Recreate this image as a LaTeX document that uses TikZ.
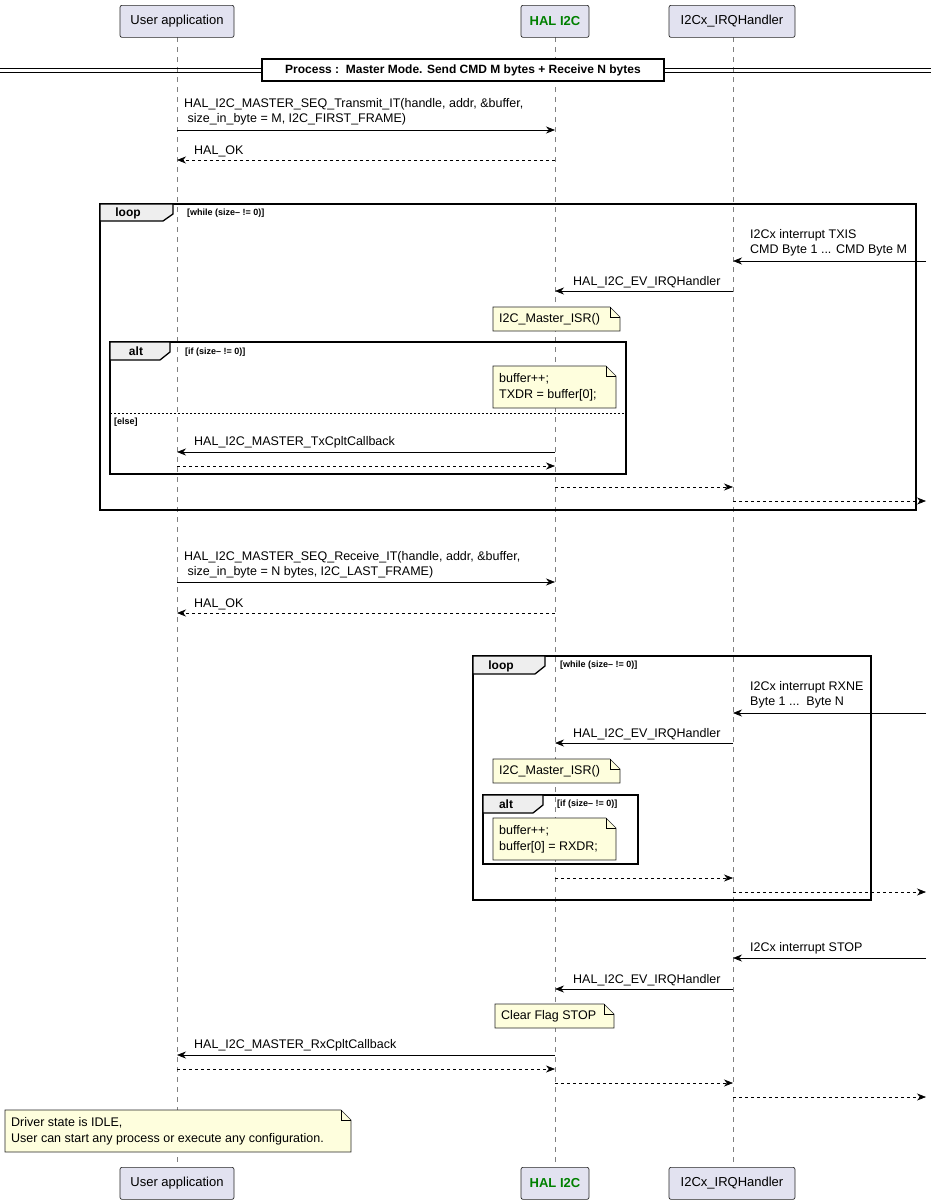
\documentclass[tikz,border=0pt]{standalone}
\usepackage{fontspec}
\setmainfont{Liberation Sans}
\usetikzlibrary{arrows.meta}
\begin{document}
\begin{tikzpicture}[x=1pt,y=-1pt,
  part/.style={draw=black!85,fill=blue!8!gray!10!white,fill={rgb,255:red,226;green,226;blue,240},rounded corners=2pt,line width=0.7pt,font=\fontsize{13}{15}\selectfont,inner sep=0pt},
  lbl/.style={anchor=west,font=\fontsize{12.5}{15}\selectfont,inner sep=0pt,align=left},
  cond/.style={anchor=west,font=\bfseries\fontsize{9}{11}\selectfont,inner sep=0pt},
  msg/.style={-{Stealth[length=9pt,width=7pt]},line width=0.6pt},
  ret/.style={msg,dashed},
  frame/.style={draw,line width=1.3pt},
  notefill/.style={draw=black!85,fill={rgb,255:red,254;green,254;blue,221},line width=0.6pt},
  life/.style={draw=gray,dash pattern=on 5pt off 5pt,line width=0.6pt}]
\useasboundingbox (0,0) rectangle (931,1203);
\def\note#1#2#3#4#5#6{%
  \filldraw[notefill] (#2,#3) -- (#4-10,#3) -- (#4,#3+10) -- (#4,#5) -- (#2,#5) -- cycle;
  \draw[line width=0.6pt] (#4-10,#3) -- (#4-10,#3+10) -- (#4,#3+10);
  \node[lbl,font=\fontsize{12.5}{16}\selectfont] (#1) at (#2+6,{(#3+#5)/2}) {#6};}
% lifelines
\draw[life] (177,37) -- (177,1167);
\draw[life] (555,37) -- (555,1167);
\draw[life] (733,37) -- (733,1167);
% participants
\foreach \n/\y in {t/5,b/1167}{
  \node[part,minimum width=114pt,minimum height=32pt,anchor=north] (ua\n) at (177,\y) {User application};
  \node[part,minimum width=68pt,minimum height=32pt,anchor=north,text={rgb,255:red,0;green,128;blue,0},font=\bfseries\fontsize{13}{15}\selectfont] (hal\n) at (555,\y) {HAL I2C};
  \node[part,minimum width=126pt,minimum height=32pt,anchor=north] (irq\n) at (732,\y) {I2Cx\_IRQHandler};
}
\coordinate (U) at (177,0); \coordinate (H) at (555,0); \coordinate (I) at (733,0); \coordinate (E) at (926,0);
% divider
\draw[line width=0.7pt] (0,68) -- (931,68) (0,72) -- (931,72);
\node[draw,fill=white,line width=1.3pt,minimum width=402pt,minimum height=22pt,font=\bfseries\fontsize{12}{14}\selectfont,inner sep=0pt] (div) at (463,70) {Process :\ \ Master Mode. Send CMD M bytes + Receive N bytes};
% messages 1
\node[lbl] (m1) at (184,112) {HAL\_I2C\_MASTER\_SEQ\_Transmit\_IT(handle, addr, \&buffer,\\\ size\_in\_byte = M, I2C\_FIRST\_FRAME)};
\draw[msg] (U|-0,130) -- (H|-0,130);
\node[lbl] (m2) at (194,151) {HAL\_OK};
\draw[ret] (H|-0,160) -- (U|-0,160);
% loop 1
\draw[frame] (100,204) rectangle (916,510);
\draw[frame,fill={rgb,255:red,238;green,238;blue,238}] (100,204) -- (173,204) -- (173,214) -- (163,221) -- (100,221) -- cycle;
\node[font=\bfseries\fontsize{12}{14}\selectfont] (l1) at (128,213) {loop};
\node[cond] (c1) at (187,213) {[while (size-- != 0)]};
\node[lbl] (m3) at (750,243) {I2Cx interrupt TXIS\\CMD Byte 1 ... CMD Byte M};
\draw[msg] (E|-0,261) -- (I|-0,261);
\node[lbl] (m4) at (573,282) {HAL\_I2C\_EV\_IRQHandler};
\draw[msg] (I|-0,291) -- (H|-0,291);
\note{n1}{493}{307}{620}{331}{I2C\_Master\_ISR()}
\draw[frame] (110,342) rectangle (626,474);
\draw[frame,fill={rgb,255:red,238;green,238;blue,238}] (110,342) -- (170,342) -- (170,352) -- (160,360) -- (110,360) -- cycle;
\node[font=\bfseries\fontsize{12}{14}\selectfont] (a1) at (136,351) {alt};
\node[cond] (c2) at (185,352) {[if (size-- != 0)]};
\note{n2}{493}{366}{616}{408}{buffer++;\\TXDR = buffer[0];}
\draw[dash pattern=on 2pt off 2pt,line width=0.6pt] (110,413) -- (626,413);
\node[cond] (el) at (114,422) {[else]};
\node[lbl] (m5) at (194,442) {HAL\_I2C\_MASTER\_TxCpltCallback};
\draw[msg] (H|-0,452) -- (U|-0,452);
\draw[ret] (U|-0,466) -- (H|-0,466);
\draw[ret] (H|-0,487) -- (I|-0,487);
\draw[ret] (I|-0,501) -- (E|-0,501);
% messages 2
\node[lbl] (m6) at (184,565) {HAL\_I2C\_MASTER\_SEQ\_Receive\_IT(handle, addr, \&buffer,\\\ size\_in\_byte = N bytes, I2C\_LAST\_FRAME)};
\draw[msg] (U|-0,582) -- (H|-0,582);
\node[lbl] (m7) at (194,604) {HAL\_OK};
\draw[ret] (H|-0,613) -- (U|-0,613);
% loop 2
\draw[frame] (473,656) rectangle (871,900);
\draw[frame,fill={rgb,255:red,238;green,238;blue,238}] (473,656) -- (545,656) -- (545,666) -- (535,674) -- (473,674) -- cycle;
\node[font=\bfseries\fontsize{12}{14}\selectfont] (l2) at (501,666) {loop};
\node[cond] (c3) at (560,665) {[while (size-- != 0)]};
\node[lbl] (m8) at (750,695) {I2Cx interrupt RXNE\\Byte 1 ...\ \ Byte N};
\draw[msg] (E|-0,713) -- (I|-0,713);
\node[lbl] (m9) at (573,734) {HAL\_I2C\_EV\_IRQHandler};
\draw[msg] (I|-0,743) -- (H|-0,743);
\note{n3}{493}{759}{620}{783}{I2C\_Master\_ISR()}
\draw[frame] (483,795) rectangle (638,864);
\draw[frame,fill={rgb,255:red,238;green,238;blue,238}] (483,795) -- (543,795) -- (543,805) -- (533,813) -- (483,813) -- cycle;
\node[font=\bfseries\fontsize{12}{14}\selectfont] (a2) at (506,804) {alt};
\node[cond] (c4) at (557,804) {[if (size-- != 0)]};
\note{n4}{493}{818}{616}{860}{buffer++;\\buffer[0] = RXDR;}
\draw[ret] (H|-0,878) -- (I|-0,878);
\draw[ret] (I|-0,892) -- (E|-0,892);
% stop
\node[lbl] (m10) at (750,948) {I2Cx interrupt STOP};
\draw[msg] (E|-0,958) -- (I|-0,958);
\node[lbl] (m11) at (573,980) {HAL\_I2C\_EV\_IRQHandler};
\draw[msg] (I|-0,989) -- (H|-0,989);
\note{n5}{495}{1004}{614}{1028}{Clear Flag STOP}
\node[lbl] (m12) at (194,1045) {HAL\_I2C\_MASTER\_RxCpltCallback};
\draw[msg] (H|-0,1055) -- (U|-0,1055);
\draw[ret] (U|-0,1069) -- (H|-0,1069);
\draw[ret] (H|-0,1083) -- (I|-0,1083);
\draw[ret] (I|-0,1097) -- (E|-0,1097);
\note{n6}{5}{1110}{351}{1152}{Driver state is IDLE,\\User can start any process or execute any configuration.}
\end{tikzpicture}
\end{document}
